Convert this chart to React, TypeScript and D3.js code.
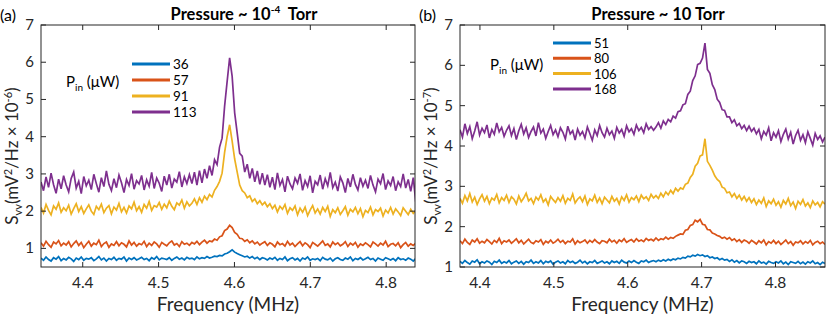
import React from 'react'
import * as d3 from 'd3'

// colours of the four input powers (MATLAB default order)
const colors = ['#0072BD', '#D95319', '#EDB120', '#7E2F8E']

// ---- panel (a): pressure ~ 1e-4 Torr ----
const powersA = ['36', '57', '91', '113']
const freqStartA = 4.345, freqEndA = 4.839, nPointsA = 150
const ticksA = [4.4, 4.5, 4.6, 4.7, 4.8]

const blueA = [
  0.74, 0.68, 0.77, 0.70, 0.66, 0.75, 0.71, 0.78, 0.67, 0.73,
  0.69, 0.76, 0.72, 0.65, 0.74, 0.70, 0.77, 0.68, 0.73, 0.71,
  0.75, 0.67, 0.72, 0.78, 0.69, 0.74, 0.66, 0.73, 0.70, 0.76,
  0.68, 0.73, 0.71, 0.77, 0.66, 0.74, 0.70, 0.75, 0.69, 0.72,
  0.76, 0.70, 0.73, 0.67, 0.75, 0.71, 0.78, 0.69, 0.74, 0.72,
  0.70, 0.75, 0.68, 0.73, 0.77, 0.71, 0.74, 0.69, 0.76, 0.72,
  0.74, 0.70, 0.77, 0.72, 0.75, 0.73, 0.78, 0.74, 0.76, 0.79,
  0.78, 0.81, 0.80, 0.85, 0.87, 0.91, 0.96, 0.90, 0.86, 0.83,
  0.80, 0.77, 0.79, 0.74, 0.78, 0.72, 0.76, 0.70, 0.75, 0.73,
  0.69, 0.74, 0.71, 0.76, 0.68, 0.73, 0.70, 0.77, 0.67, 0.72,
  0.75, 0.69, 0.73, 0.66, 0.74, 0.71, 0.77, 0.68, 0.72, 0.70,
  0.73, 0.67, 0.76, 0.71, 0.69, 0.74, 0.66, 0.72, 0.75, 0.70,
  0.68, 0.74, 0.71, 0.77, 0.67, 0.73, 0.70, 0.75, 0.69, 0.72,
  0.76, 0.70, 0.73, 0.66, 0.74, 0.71, 0.68, 0.75, 0.72, 0.69,
  0.73, 0.67, 0.75, 0.70, 0.72, 0.68, 0.74, 0.71, 0.66, 0.73,
]
const orangeA = [
  1.15, 1.06, 1.19, 1.10, 1.03, 1.17, 1.12, 1.21, 1.07, 1.14,
  1.09, 1.18, 1.04, 1.13, 1.20, 1.08, 1.16, 1.02, 1.11, 1.19,
  1.06, 1.14, 1.10, 1.22, 1.05, 1.13, 1.17, 1.03, 1.12, 1.08,
  1.18, 1.07, 1.15, 1.11, 1.04, 1.20, 1.09, 1.16, 1.06, 1.13,
  1.10, 1.19, 1.05, 1.14, 1.08, 1.17, 1.12, 1.03, 1.16, 1.11,
  1.07, 1.15, 1.20, 1.09, 1.13, 1.05, 1.18, 1.11, 1.14, 1.08,
  1.16, 1.12, 1.19, 1.10, 1.17, 1.22, 1.14, 1.20, 1.18, 1.25,
  1.22, 1.31, 1.34, 1.48, 1.52, 1.62, 1.56, 1.43, 1.38, 1.27,
  1.26, 1.19, 1.23, 1.15, 1.20, 1.12, 1.17, 1.09, 1.14, 1.18,
  1.08, 1.15, 1.11, 1.04, 1.17, 1.10, 1.13, 1.06, 1.19, 1.09,
  1.14, 1.05, 1.12, 1.18, 1.07, 1.15, 1.10, 1.02, 1.16, 1.11,
  1.06, 1.13, 1.20, 1.08, 1.12, 1.04, 1.17, 1.10, 1.15, 1.07,
  1.11, 1.18, 1.05, 1.14, 1.09, 1.16, 1.03, 1.12, 1.08, 1.15,
  1.10, 1.04, 1.17, 1.12, 1.06, 1.14, 1.09, 1.19, 1.05, 1.11,
  1.13, 1.07, 1.15, 1.02, 1.10, 1.16, 1.06, 1.12, 1.08, 1.14,
]
const yellowA = [
  2.10, 1.95, 2.18, 2.02, 1.90, 2.14, 2.05, 2.22, 1.97, 2.09,
  2.01, 2.16, 1.92, 2.07, 2.20, 1.99, 2.12, 1.94, 2.06, 2.17,
  2.00, 1.91, 2.13, 2.04, 2.19, 1.96, 2.08, 2.15, 1.93, 2.11,
  2.03, 2.21, 1.98, 2.10, 1.95, 2.14, 2.06, 2.24, 2.01, 2.12,
  1.97, 2.18, 2.08, 2.26, 2.02, 2.15, 2.11, 2.23, 2.05, 2.19,
  2.09, 2.27, 2.13, 2.04, 2.22, 2.16, 2.30, 2.08, 2.25, 2.14,
  2.21, 2.33, 2.18, 2.36, 2.24, 2.40, 2.31, 2.45, 2.38, 2.56,
  2.66, 2.80, 3.02, 3.58, 4.00, 4.32, 3.88, 3.40, 3.05, 2.70,
  2.55, 2.49, 2.36, 2.41, 2.26, 2.33, 2.20, 2.28, 2.17, 2.24,
  2.12, 2.20, 2.07, 2.16, 1.98, 2.13, 2.05, 2.18, 1.94, 2.09,
  2.02, 2.14, 1.90, 2.08, 1.97, 2.11, 1.88, 2.03, 2.15, 1.95,
  2.06, 1.92, 2.10, 1.99, 2.13, 1.86, 2.04, 1.96, 2.09, 1.91,
  2.01, 2.12, 1.89, 2.05, 1.98, 2.10, 1.93, 2.07, 1.85, 2.02,
  1.96, 2.11, 1.90, 2.04, 1.99, 2.08, 1.87, 2.03, 1.95, 2.10,
  1.92, 2.06, 1.98, 1.88, 2.09, 2.00, 1.91, 2.05, 1.94, 2.02,
]
const purpleA = [
  2.78, 2.55, 2.92, 2.64, 3.02, 2.71, 2.48, 2.86, 2.60, 2.95,
  2.70, 2.52, 2.88, 3.05, 2.62, 2.80, 2.47, 2.93, 2.68, 2.83,
  2.58, 2.99, 2.74, 2.51, 2.90, 2.66, 3.08, 2.72, 2.55, 2.87,
  2.63, 2.97, 2.76, 2.50, 2.85, 2.69, 3.01, 2.59, 2.82, 2.73,
  2.96, 2.57, 2.84, 2.67, 3.04, 2.61, 2.89, 2.75, 2.53, 2.94,
  2.70, 2.99, 2.62, 2.86, 2.78, 3.06, 2.65, 2.92, 2.74, 2.98,
  2.74, 3.05, 2.70, 3.09, 2.76, 3.13, 2.88, 3.22, 2.96, 3.38,
  3.25, 3.72, 3.96, 4.82, 5.48, 6.12, 5.62, 4.64, 4.10, 3.55,
  3.48, 3.05, 3.26, 2.88, 3.15, 2.79, 3.08, 2.72, 3.02, 2.70,
  2.98, 2.64, 2.91, 2.58, 3.03, 2.69, 2.85, 2.52, 2.94, 2.73,
  2.60, 2.89, 2.75, 3.00, 2.56, 2.82, 2.66, 2.95, 2.49, 2.80,
  2.71, 2.97, 2.59, 2.87, 2.68, 3.04, 2.63, 2.78, 2.54, 2.92,
  2.76, 2.50, 2.88, 2.65, 2.99, 2.72, 2.57, 2.90, 2.67, 2.83,
  2.61, 2.96, 2.70, 2.52, 2.86, 2.74, 3.01, 2.58, 2.81, 2.69,
  2.93, 2.55, 2.79, 2.66, 3.00, 2.62, 2.85, 2.53, 2.90, 2.25,
]

// ---- panel (b): pressure ~ 10 Torr ----
const powersB = ['51', '80', '106', '168']
const freqStartB = 4.373, freqEndB = 4.867, nPointsB = 150
const ticksB = [4.4, 4.5, 4.6, 4.7, 4.8]

const blueB = [
  1.14, 1.09, 1.16, 1.11, 1.07, 1.15, 1.12, 1.18, 1.08, 1.13,
  1.10, 1.15, 1.12, 1.06, 1.14, 1.11, 1.17, 1.09, 1.13, 1.10,
  1.16, 1.08, 1.12, 1.15, 1.09, 1.14, 1.07, 1.13, 1.11, 1.17,
  1.09, 1.13, 1.10, 1.16, 1.08, 1.14, 1.11, 1.15, 1.07, 1.12,
  1.15, 1.10, 1.13, 1.08, 1.16, 1.11, 1.14, 1.09, 1.12, 1.17,
  1.10, 1.14, 1.08, 1.13, 1.11, 1.16, 1.09, 1.12, 1.15, 1.10,
  1.13, 1.08, 1.15, 1.11, 1.14, 1.09, 1.17, 1.12, 1.10, 1.15,
  1.11, 1.16, 1.12, 1.09, 1.15, 1.13, 1.17, 1.11, 1.14, 1.16,
  1.13, 1.17, 1.14, 1.18, 1.15, 1.19, 1.16, 1.20, 1.18, 1.22,
  1.20, 1.24, 1.22, 1.27, 1.25, 1.29, 1.27, 1.31, 1.28, 1.30,
  1.26, 1.28, 1.23, 1.25, 1.21, 1.23, 1.18, 1.21, 1.17, 1.19,
  1.14, 1.18, 1.12, 1.16, 1.10, 1.15, 1.13, 1.09, 1.14, 1.11,
  1.13, 1.08, 1.15, 1.10, 1.12, 1.07, 1.14, 1.11, 1.09, 1.13,
  1.10, 1.15, 1.08, 1.12, 1.06, 1.13, 1.11, 1.09, 1.14, 1.08,
  1.12, 1.07, 1.13, 1.10, 1.15, 1.08, 1.11, 1.06, 1.12, 1.09,
]
const orangeB = [
  1.65, 1.58, 1.69, 1.61, 1.56, 1.67, 1.62, 1.70, 1.59, 1.64,
  1.60, 1.68, 1.63, 1.57, 1.66, 1.61, 1.71, 1.58, 1.65, 1.62,
  1.67, 1.59, 1.64, 1.70, 1.60, 1.66, 1.57, 1.63, 1.69, 1.61,
  1.58, 1.65, 1.62, 1.68, 1.56, 1.64, 1.60, 1.67, 1.59, 1.63,
  1.69, 1.61, 1.66, 1.58, 1.64, 1.62, 1.70, 1.57, 1.65, 1.60,
  1.63, 1.67, 1.59, 1.66, 1.61, 1.68, 1.62, 1.58, 1.65, 1.64,
  1.60, 1.69, 1.62, 1.66, 1.59, 1.67, 1.63, 1.70, 1.61, 1.65,
  1.68, 1.62, 1.70, 1.64, 1.67, 1.63, 1.71, 1.66, 1.69, 1.65,
  1.72, 1.66, 1.70, 1.68, 1.74, 1.69, 1.73, 1.71, 1.76, 1.79,
  1.82, 1.81, 1.91, 1.93, 2.03, 2.05, 2.16, 2.12, 2.18, 2.06,
  2.04, 1.93, 1.92, 1.84, 1.82, 1.78, 1.76, 1.71, 1.74, 1.69,
  1.73, 1.66, 1.70, 1.63, 1.68, 1.61, 1.67, 1.64, 1.59, 1.66,
  1.62, 1.57, 1.65, 1.60, 1.67, 1.55, 1.63, 1.59, 1.66, 1.58,
  1.64, 1.56, 1.61, 1.67, 1.58, 1.63, 1.54, 1.62, 1.60, 1.65,
  1.57, 1.63, 1.59, 1.66, 1.55, 1.61, 1.64, 1.58, 1.62, 1.56,
]
const yellowB = [
  2.70, 2.58, 2.77, 2.64, 2.82, 2.61, 2.73, 2.55, 2.69, 2.79,
  2.63, 2.75, 2.57, 2.71, 2.66, 2.80, 2.59, 2.72, 2.65, 2.78,
  2.60, 2.74, 2.68, 2.56, 2.76, 2.62, 2.71, 2.83, 2.64, 2.70,
  2.57, 2.73, 2.66, 2.79, 2.61, 2.69, 2.54, 2.75, 2.67, 2.60,
  2.72, 2.63, 2.77, 2.58, 2.70, 2.65, 2.81, 2.59, 2.68, 2.74,
  2.62, 2.76, 2.55, 2.69, 2.64, 2.78, 2.60, 2.71, 2.57, 2.73,
  2.66, 2.59, 2.75, 2.63, 2.70, 2.56, 2.74, 2.65, 2.79, 2.61,
  2.72, 2.67, 2.76, 2.62, 2.78, 2.69, 2.74, 2.65, 2.80, 2.71,
  2.77, 2.70, 2.83, 2.74, 2.86, 2.79, 2.90, 2.82, 2.95, 2.88,
  2.96, 2.93, 3.05, 3.08, 3.22, 3.30, 3.50, 3.57, 3.75, 3.78,
  4.18, 3.62, 3.52, 3.40, 3.26, 3.17, 3.12, 2.98, 2.95, 2.84,
  2.86, 2.74, 2.82, 2.70, 2.78, 2.66, 2.75, 2.63, 2.72, 2.60,
  2.69, 2.55, 2.66, 2.58, 2.71, 2.50, 2.64, 2.57, 2.68, 2.53,
  2.62, 2.48, 2.65, 2.56, 2.70, 2.52, 2.61, 2.45, 2.63, 2.55,
  2.67, 2.51, 2.59, 2.47, 2.64, 2.54, 2.60, 2.49, 2.62, 2.56,
]
const purpleB = [
  4.40, 4.22, 4.55, 4.31, 4.48, 4.18, 4.37, 4.60, 4.27, 4.44,
  4.33, 4.52, 4.20, 4.41, 4.29, 4.57, 4.35, 4.46, 4.24, 4.39,
  4.50, 4.26, 4.43, 4.16, 4.38, 4.54, 4.30, 4.45, 4.21, 4.36,
  4.47, 4.25, 4.58, 4.32, 4.42, 4.19, 4.36, 4.51, 4.28, 4.40,
  4.23, 4.45, 4.34, 4.17, 4.49, 4.30, 4.38, 4.15, 4.42, 4.27,
  4.36, 4.20, 4.47, 4.31, 4.14, 4.40, 4.26, 4.51, 4.33, 4.22,
  4.44, 4.28, 4.37, 4.19, 4.46, 4.32, 4.41, 4.24, 4.50, 4.35,
  4.43, 4.29, 4.52, 4.38, 4.46, 4.33, 4.55, 4.41, 4.48, 4.39,
  4.47, 4.58, 4.44, 4.62, 4.53, 4.66, 4.60, 4.74, 4.69, 4.85,
  4.87, 5.02, 5.05, 5.28, 5.36, 5.62, 5.74, 6.02, 6.05, 6.18,
  6.55, 5.90, 5.80, 5.52, 5.40, 5.16, 5.08, 4.90, 4.88, 4.72,
  4.72, 4.58, 4.65, 4.50, 4.56, 4.43, 4.51, 4.38, 4.49, 4.36,
  4.44, 4.30, 4.41, 4.18, 4.36, 4.27, 4.45, 4.13, 4.33, 4.22,
  4.38, 4.11, 4.29, 4.42, 4.17, 4.34, 4.05, 4.26, 4.39, 4.14,
  4.28, 4.08, 4.35, 4.19, 4.02, 4.31, 4.16, 4.25, 4.10, 4.22,
]

const yTicks = [1, 2, 3, 4, 5, 6, 7]
const font = 'Lato, "Open Sans", sans-serif'
const ink = '#262626'

type PanelProps = {
  id: string
  letter: string
  left: number
  right: number
  top: number
  bottom: number
  xDomain: [number, number]
  yDomain: [number, number]
  freqs: number[]
  series: number[][]
  powers: string[]
  xTicks: number[]
  exponent: string
  titleExp: string | null
  titleX: number
  legendX: number
  legendY: number
  legendStep: number
  legendFont: number
  pinX: number
  pinY: number
}

const Panel = (p: PanelProps) => {
  const x = d3.scaleLinear().domain(p.xDomain).range([p.left, p.right])
  const y = d3.scaleLinear().domain(p.yDomain).range([p.bottom, p.top])
  const line = d3.line<number>()
    .x((_, i) => x(p.freqs[i]))
    .y(d => y(d))
  const tk = 5
  const midY = (p.top + p.bottom) / 2
  const midX = (p.left + p.right) / 2
  return (
    <g>
      <defs>
        <clipPath id={'clip' + p.id}>
          <rect x={p.left} y={p.top} width={p.right - p.left} height={p.bottom - p.top} />
        </clipPath>
      </defs>
      <g clipPath={`url(#clip${p.id})`}>
        {p.series.map((s, i) => (
          <path key={i} d={line(s) || ''} fill="none" stroke={colors[i]} strokeWidth={1.7} strokeLinejoin="miter" />
        ))}
      </g>
      {/* box and ticks */}
      <rect x={p.left} y={p.top} width={p.right - p.left} height={p.bottom - p.top} fill="none" stroke={ink} strokeWidth={1} />
      {p.xTicks.map(t => (
        <g key={'x' + t}>
          <line x1={x(t)} x2={x(t)} y1={p.bottom} y2={p.bottom - tk} stroke={ink} />
          <line x1={x(t)} x2={x(t)} y1={p.top} y2={p.top + tk} stroke={ink} />
          <text x={x(t)} y={p.bottom + 21} textAnchor="middle" fontSize={15.5} fill={ink} fontFamily={font}>{t.toFixed(1)}</text>
        </g>
      ))}
      {yTicks.filter(t => t >= p.yDomain[0]).map(t => (
        <g key={'y' + t}>
          <line x1={p.left} x2={p.left + tk} y1={y(t)} y2={y(t)} stroke={ink} />
          <line x1={p.right} x2={p.right - tk} y1={y(t)} y2={y(t)} stroke={ink} />
          <text x={p.left - 7} y={y(t) + 5} textAnchor="end" fontSize={15} fill={ink} fontFamily={font}>{t}</text>
        </g>
      ))}
      {/* axis labels */}
      <text x={midX} y={p.bottom + 44} textAnchor="middle" fontSize={19} fill={ink} fontFamily={font}>Frequency (MHz)</text>
      <text transform={`translate(${p.left - 23},${midY + 10}) rotate(-90)`} textAnchor="middle" fontSize={17} fill={ink} fontFamily={font}>
        S<tspan fontSize={11} dy={4}>vv</tspan><tspan dy={-4}>(mV</tspan><tspan fontSize={11} dy={-6}>2</tspan><tspan dy={6}>/Hz × 10</tspan><tspan fontSize={11} dy={-6}>{p.exponent}</tspan><tspan dy={6}>)</tspan>
      </text>
      {/* title */}
      <text x={p.titleX} y={20} textAnchor="middle" fontSize={16.5} fontWeight="bold" fill="#000" fontFamily={font}>
        {p.titleExp ? (
          <>Pressure ~ 10<tspan fontSize={10} dy={-7}>{p.titleExp}</tspan><tspan dy={7}>{'\u00a0\u00a0'}Torr</tspan></>
        ) : 'Pressure ~ 10 Torr'}
      </text>
      <text x={p.left - 41} y={21} fontSize={16} fill="#000" fontFamily={font}>{p.letter}</text>
      {/* legend */}
      {p.powers.map((pw, i) => (
        <g key={pw}>
          <line x1={p.legendX} x2={p.legendX + 38} y1={p.legendY + i * p.legendStep} y2={p.legendY + i * p.legendStep} stroke={colors[i]} strokeWidth={3} />
          <text x={p.legendX + 41} y={p.legendY + i * p.legendStep + 5} fontSize={p.legendFont} fill="#000" fontFamily={font}>{pw}</text>
        </g>
      ))}
      <text x={p.pinX} y={p.pinY} fontSize={15} fill="#000" fontFamily={font}>
        P<tspan fontSize={10} dy={4}>in</tspan><tspan dy={-4}>{'\u00a0'}(μW)</tspan>
      </text>
    </g>
  )
}

const App = () => {
  const freqA = d3.range(nPointsA).map(i => freqStartA + (i * (freqEndA - freqStartA)) / (nPointsA - 1))
  const freqB = d3.range(nPointsB).map(i => freqStartB + (i * (freqEndB - freqStartB)) / (nPointsB - 1))
  return (
    <svg width={830} height={318} style={{ position: 'absolute', left: 0, top: 0, background: '#fff' }}>
      <Panel id="a" letter="(a)" left={41} right={415} top={25} bottom={267}
        xDomain={[4.345, 4.838]} yDomain={[0.5, 7]} freqs={freqA}
        series={[blueA, orangeA, yellowA, purpleA]} powers={powersA} xTicks={ticksA}
        exponent="-6" titleExp="-4" titleX={244}
        legendX={132} legendY={64} legendStep={16} legendFont={13.5} pinX={66} pinY={87} />
      <Panel id="b" letter="(b)" left={460} right={825} top={25} bottom={267}
        xDomain={[4.373, 4.867]} yDomain={[1, 7]} freqs={freqB}
        series={[blueB, orangeB, yellowB, purpleB]} powers={powersB} xTicks={ticksB}
        exponent="-7" titleExp={null} titleX={658}
        legendX={553} legendY={43} legendStep={15.3} legendFont={13} pinX={490} pinY={70} />
    </svg>
  )
}

export default App
